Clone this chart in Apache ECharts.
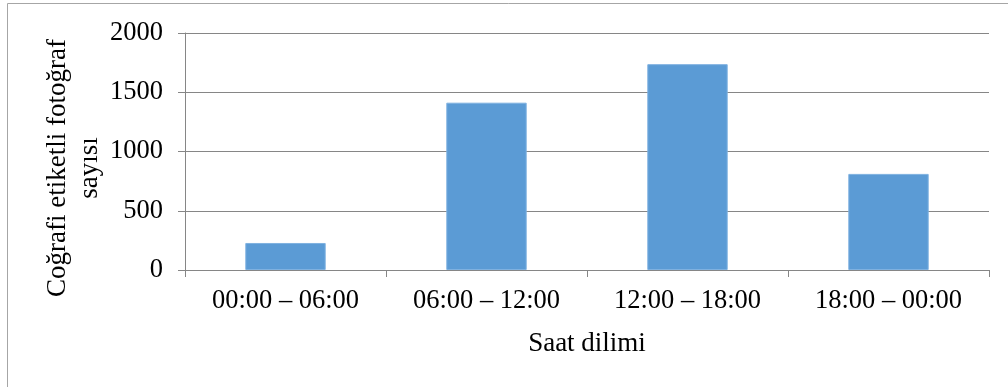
<!DOCTYPE html>
<html>
<head>
<meta charset="utf-8">
<script src="https://cdn.jsdelivr.net/npm/echarts@6/dist/echarts.min.js"></script>
<style>
html,body{margin:0;padding:0;background:#fff;}
#c{width:1008px;height:387px;}
</style>
</head>
<body>
<div id="c"></div>
<script>
var categories = ['00:00 – 06:00', '06:00 – 12:00', '12:00 – 18:00', '18:00 – 00:00'];
var values = [228, 1412, 1737, 811];
var yTicks = [0, 500, 1000, 1500, 2000];
var xTitle = 'Saat dilimi';
var yTitle = 'Coğrafi etiketli fotoğraf\nsayısı';

var font = '"Liberation Serif", "Times New Roman", serif';
var chart = echarts.init(document.getElementById('c'), null, {renderer: 'canvas'});
chart.setOption({
  animation: false,
  backgroundColor: '#ffffff',
  grid: {left: 185, right: 19, top: 33, bottom: 117, containLabel: false},
  graphic: [
    {type: 'rect', shape: {x: 7.5, y: 3.5, width: 1010, height: 400}, style: {fill: 'none', stroke: '#a6a6a6', lineWidth: 1}, z: -1},
    {type: 'text', x: 74, y: 168, rotation: Math.PI / 2,
     style: {text: yTitle, font: '27px ' + font, fill: '#000', textAlign: 'center', textVerticalAlign: 'middle', lineHeight: 32}}
  ],
  xAxis: {
    type: 'category',
    data: categories,
    name: xTitle,
    nameLocation: 'middle',
    nameGap: 60,
    nameTextStyle: {fontFamily: font, fontSize: 27, color: '#000'},
    axisLine: {show: true, lineStyle: {color: '#868686', width: 1}},
    axisTick: {show: true, length: 7, lineStyle: {color: '#868686'}},
    axisLabel: {fontFamily: font, fontSize: 26.5, color: '#000', margin: 18}
  },
  yAxis: {
    type: 'value',
    min: yTicks[0], max: yTicks[yTicks.length - 1], interval: 500,
    axisLine: {show: true, lineStyle: {color: '#868686', width: 1}},
    axisTick: {show: true, length: 7, lineStyle: {color: '#868686'}},
    axisLabel: {fontFamily: font, fontSize: 26.5, color: '#000', margin: 22,
      formatter: function (v) { return String(v); }},
    splitLine: {show: true, lineStyle: {color: '#868686', width: 1}}
  },
  series: [{
    type: 'bar',
    data: values,
    barWidth: '40%',
    itemStyle: {color: '#5B9BD5', borderColor: '#7FB1E0', borderWidth: 1}
  }]
});
</script>
</body>
</html>
